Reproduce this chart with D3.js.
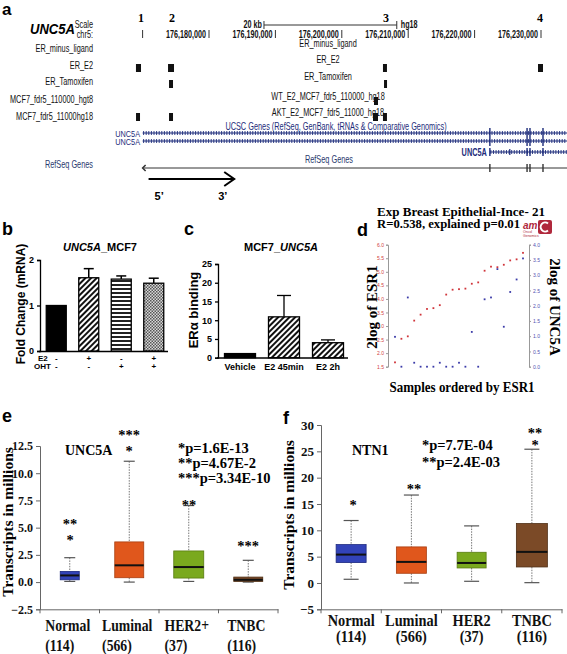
<!DOCTYPE html>
<html><head><meta charset="utf-8">
<script src="https://cdn.jsdelivr.net/npm/d3@7"></script>
<style>
body{margin:0;background:#fff}
svg{display:block}
text{font-family:"Liberation Sans",Arial,sans-serif}
.ser{font-family:"Liberation Serif","Times New Roman",serif;font-weight:bold}
</style>
</head><body>
<svg id="chart" width="567" height="654"></svg>
<script>
// ===================== DATA =====================
// Panel a : UCSC browser view (genomic coordinates, hg18 chr5)
const genomeTicks = [176180000,176190000,176200000,176210000,176220000,176230000];
const firstTick = 176170000;
const siteLabels = ["1","2","3","4"];
const sitePositions = [176169760,176174430,176206660,176229850];
const trackNames = ["ER_minus_ligand","ER_E2","ER_Tamoxifen","MCF7_fdr5_110000_hgt8","MCF7_fdr5_11000hg18"];
const trackTitles = ["ER_minus_ligand","ER_E2","ER_Tamoxifen","WT_E2_MCF7_fdr5_110000_hg18","AKT_E2_MCF7_fdr5_11000_hg18"];
const trackPeaks = [
  [],
  [[176169000,176169760],[176173830,176174730],[176206200,176206800],[176229550,176230300]],
  [[176173980,176174580],[176206360,176206810]],
  [[176204850,176205450]],
  [[176169010,176169610],[176173980,176174580],[176204700,176205450],[176206200,176206800]]
];
const geneStart = 176170000, shortGeneStart = 176222300;
const exonPositions = [176222300,176227900,176228340,176230300];
const shortExonExtra = [176225300];
const scaleBarStart = 176188280, scaleBarLength = 20000;
const arrowFrom = 176170900, arrowTo = 176183800;

// Panel b : UNC5A_MCF7 fold change
const bE2  = ["-","+","-","+"];
const bOHT = ["-","-","+","+"];
const bValues = [1.00,1.61,1.58,1.49];
const bErrors = [0,0.20,0.07,0.11];
const bTicks = [0,1,2];

// Panel c : ERα binding
const cCategories = ["Vehicle","E2 45min","E2 2h"];
const cValues = [1.1,10.9,4.0];
const cErrors = [0,5.7,0.75];
const cTicks = [0,5,10,15,20,25];

// Panel d : 21 samples ordered by ESR1
const dESR1  = [1.66,2.53,2.62,3.20,3.42,3.63,3.66,3.77,4.16,4.34,4.36,4.38,4.56,4.61,5.04,5.19,5.17,5.26,5.42,5.46,5.70];
const dUNC5A = [0.98,0.00,2.27,0.13,0.00,0.00,0.00,0.13,0.00,0.00,0.13,0.00,1.14,0.00,2.21,2.27,3.20,1.31,2.45,2.86,3.55];
const dLeftTicks = [1.5,2.0,2.5,3.0,3.5,4.0,4.5,5.0,5.5,6.0];
const dRightTicks = [0.0,0.5,1.0,1.5,2.0,2.5,3.0,3.5,4.0];

// Panel e : UNC5A transcripts
const eCategories = ["Normal","Luminal","HER2+","TNBC"];
const eCounts = ["(114)","(566)","(37)","(116)"];
const eMin = [0.06,0.00,0.06,0.00];
const eQ1  = [0.21,0.40,0.37,0.06];
const eMed = [0.61,1.54,1.38,0.21];
const eQ3  = [0.98,3.69,2.86,0.46];
const eMax = [2.24,11.10,7.03,2.00];
const eStars = [["**","*"],["***","*"],["**"],["***"]];
const eNotes = ["*p=1.6E-13","**p=4.67E-2","***p=3.34E-10"];
const eTicks = [-2.5,0,2.5,5,7.5,10,12.5];

// Panel f : NTN1 transcripts
const fCategories = ["Normal","Luminal","HER2","TNBC"];
const fCounts = ["(114)","(566)","(37)","(116)"];
const fMin = [0.70,0.00,0.32,0.06];
const fQ1  = [3.87,1.84,2.85,3.04];
const fMed = [5.39,4.00,3.80,5.90];
const fQ3  = [7.29,6.85,5.83,11.29];
const fMax = [11.86,16.70,10.84,25.40];
const fStars = [["*"],["**"],[],["**","*"]];
const fNotes = ["*p=7.7E-04","**p=2.4E-03"];
const fTicks = [-5,0,5,10,15,20,25,30];

// ===================== DRAW =====================
const svg = d3.select("#chart");
const NAVY = "#1c2b7a";
const FA = 10.5; // panel a label size

// condensed text helper (squeezes glyphs horizontally by factor k)
function ctext(g, x, y, str, o){
  const t = g.append("text").attr("x",x).attr("y",y).attr("font-size",o.size||FA)
    .attr("text-anchor",o.anchor||"start").attr("font-weight",o.weight||"normal").attr("fill",o.fill||"#111").text(str);
  if(o.cls) t.attr("class",o.cls);
  const w = t.node().getComputedTextLength();
  t.attr("textLength",w*(o.k||1)).attr("lengthAdjust","spacingAndGlyphs");
  return t;
}
function measure(str,size,weight,cls){
  const t = svg.append("text").attr("font-size",size).attr("font-weight",weight).text(str);
  if(cls) t.attr("class",cls);
  const w = t.node().getComputedTextLength(); t.remove(); return w;
}
const KA = 83/measure("MCF7_fdr5_110000_hgt8",FA,"normal");
const KAB = 40/measure("176,180,000",FA,"bold");

// ---------- Panel a ----------
const ga = svg.append("g");
const gx = d3.scaleLinear().domain([176180000,176230000]).range([209,541]);
ga.append("text").attr("x",2).attr("y",15).attr("font-size",17).attr("font-weight","bold").text("a");
ga.selectAll(".site").data(siteLabels).join("text").attr("class","ser")
  .attr("x",(d,i)=>gx(sitePositions[i])).attr("y",22).attr("text-anchor","middle").attr("font-size",12).text(d=>d);
ga.append("text").attr("x",30).attr("y",34).attr("font-size",14).attr("font-weight","bold").attr("font-style","italic").attr("textLength",45).attr("lengthAdjust","spacingAndGlyphs").text("UNC5A");
ctext(ga,93,28,"Scale",{anchor:"end",k:KA});
ctext(ga,93,38,"chr5:",{anchor:"end",k:KA});
const sb0 = gx(scaleBarStart), sb1 = gx(scaleBarStart+scaleBarLength);
ctext(ga,sb0-2,28,"20 kb",{anchor:"end",weight:"bold",k:KAB});
ga.append("line").attr("x1",sb0).attr("x2",sb1).attr("y1",25).attr("y2",25).attr("stroke","#333");
[sb0,sb1].forEach(x=>ga.append("line").attr("x1",x).attr("x2",x).attr("y1",21).attr("y2",29).attr("stroke","#333"));
ctext(ga,sb1+4,28,"hg18",{weight:"bold",k:KAB});
ga.append("line").attr("x1",gx(firstTick)).attr("x2",gx(firstTick)).attr("y1",30).attr("y2",38).attr("stroke","#333");
genomeTicks.forEach(t=>{
  ga.append("line").attr("x1",gx(t)).attr("x2",gx(t)).attr("y1",30).attr("y2",38).attr("stroke","#333");
  ctext(ga,gx(t)-3,38,d3.format(",")(t),{anchor:"end",weight:"bold",k:KAB});
});
const leftY = [52,69,85,103,120], titleY = [47,63,80,100,116], peakTop = [0,64,80,97,113];
trackNames.forEach((n,i)=>{
  ctext(ga,93,leftY[i],n,{anchor:"end",k:KA});
  ctext(ga,328,titleY[i],trackTitles[i],{anchor:"middle",k:KA});
  ga.selectAll(null).data(trackPeaks[i]).join("rect")
    .attr("x",d=>gx(d[0])).attr("width",d=>Math.max(3,gx(d[1])-gx(d[0])))
    .attr("y",peakTop[i]).attr("height",8).attr("fill","#111");
});
ctext(ga,336,130,"UCSC Genes (RefSeq, GenBank, tRNAs & Comparative Genomics)",{anchor:"middle",fill:NAVY,k:KA});
function geneLine(x0,x1,y){
  ga.append("line").attr("x1",x0).attr("x2",x1).attr("y1",y).attr("y2",y).attr("stroke",NAVY).attr("stroke-width",1.2);
  const ticks = d3.range(x0+1,x1,2.6);
  ga.selectAll(null).data(ticks).join("line").attr("x1",d=>d).attr("x2",d=>d).attr("y1",y-2).attr("y2",y+2).attr("stroke",NAVY).attr("stroke-width",0.9);
}
[133,141].forEach(y=>{
  geneLine(gx(geneStart),567,y);
  ctext(ga,140,y+3.5,"UNC5A",{anchor:"end",fill:NAVY,size:9.5,k:KA*1.1});
});
geneLine(gx(shortGeneStart),567,152);
ctext(ga,gx(shortGeneStart)-3,155.5,"UNC5A",{anchor:"end",fill:NAVY,weight:"bold",k:KA});
exonPositions.forEach(p=>{
  ga.append("line").attr("x1",gx(p)).attr("x2",gx(p)).attr("y1",128).attr("y2",146).attr("stroke",NAVY).attr("stroke-width",1.4);
  ga.append("line").attr("x1",gx(p)).attr("x2",gx(p)).attr("y1",148).attr("y2",156).attr("stroke",NAVY).attr("stroke-width",1.4);
  ga.append("line").attr("x1",gx(p)).attr("x2",gx(p)).attr("y1",164).attr("y2",172).attr("stroke","#333").attr("stroke-width",1.4);
});
shortExonExtra.forEach(p=>ga.append("line").attr("x1",gx(p)).attr("x2",gx(p)).attr("y1",149).attr("y2",155).attr("stroke",NAVY).attr("stroke-width",1.2));
ctext(ga,93,168,"RefSeq Genes",{anchor:"end",fill:"#2b3a6e",k:KA});
ctext(ga,329,163,"RefSeq Genes",{anchor:"middle",fill:"#2b3a6e",k:KA});
ga.append("line").attr("x1",gx(geneStart)).attr("x2",567).attr("y1",168).attr("y2",168).attr("stroke","#333").attr("stroke-width",1);
ga.append("path").attr("d",`M${gx(geneStart)+3},165 L${gx(geneStart)},168 L${gx(geneStart)+3},171`).attr("fill","none").attr("stroke","#333").attr("stroke-width",1.5);
const ax0 = gx(arrowFrom), ax1 = gx(arrowTo);
ga.append("line").attr("x1",ax0).attr("x2",ax1).attr("y1",179).attr("y2",179).attr("stroke","#000").attr("stroke-width",2);
ga.append("path").attr("d",`M${ax1-10},172 L${ax1},179 L${ax1-10},186`).attr("fill","none").attr("stroke","#000").attr("stroke-width",2);
ga.append("text").attr("x",ax0+6).attr("y",200).attr("font-size",11).attr("font-weight","bold").text("5’");
ga.append("text").attr("x",ax1-16).attr("y",200).attr("font-size",11).attr("font-weight","bold").text("3’");

// ---------- patterns ----------
const defs = svg.append("defs");
const pd = defs.append("pattern").attr("id","diag").attr("patternUnits","userSpaceOnUse").attr("width",4).attr("height",4).attr("patternTransform","rotate(-45)");
pd.append("rect").attr("width",4).attr("height",4).attr("fill","#fff");
pd.append("rect").attr("width",4).attr("height",2).attr("fill","#111");
const ph = defs.append("pattern").attr("id","horiz").attr("patternUnits","userSpaceOnUse").attr("width",4).attr("height",4);
ph.append("rect").attr("width",4).attr("height",4).attr("fill","#fff");
ph.append("rect").attr("width",4).attr("height",2).attr("fill","#222");
const pc = defs.append("pattern").attr("id","check").attr("patternUnits","userSpaceOnUse").attr("width",3).attr("height",3);
pc.append("rect").attr("width",3).attr("height",3).attr("fill","#d8d8d8");
pc.append("rect").attr("width",1.5).attr("height",1.5).attr("fill","#555");
pc.append("rect").attr("x",1.5).attr("y",1.5).attr("width",1.5).attr("height",1.5).attr("fill","#555");
const bFills = ["#000","url(#diag)","url(#horiz)","url(#check)"];
const cFills = ["#000","url(#diag)","url(#diag)"];

// ---------- Panel b ----------
const gb = svg.append("g");
gb.append("text").attr("x",2).attr("y",235).attr("font-size",18).attr("font-weight","bold").text("b");
const bt = gb.append("text").attr("x",100).attr("y",251).attr("text-anchor","middle").attr("font-size",11).attr("font-weight","bold");
bt.append("tspan").attr("font-style","italic").text("UNC5A");bt.append("tspan").text("_MCF7");
const yB = d3.scaleLinear().domain([0,2]).range([351,260]);
const xB = d3.scalePoint().domain(d3.range(4)).range([40,170]).padding(0.5);
const bw = 20;
gb.append("g").attr("transform","translate(40,0)").call(d3.axisLeft(yB).tickValues(bTicks).tickFormat(d3.format("d")).tickSize(3))
  .call(g=>{g.selectAll("text").attr("font-size",9).attr("font-weight","bold");g.select(".domain").attr("stroke-width",1.3);g.selectAll(".tick line").attr("stroke-width",1.3);});
gb.append("line").attr("x1",39).attr("x2",168).attr("y1",351.5).attr("y2",351.5).attr("stroke","#000").attr("stroke-width",1.3);
bValues.forEach((v,i)=>{
  const cx = xB(i);
  if(bErrors[i]>0){
    gb.append("line").attr("x1",cx).attr("x2",cx).attr("y1",yB(v)).attr("y2",yB(v+bErrors[i])).attr("stroke","#000").attr("stroke-width",1.5);
    gb.append("line").attr("x1",cx-5).attr("x2",cx+5).attr("y1",yB(v+bErrors[i])).attr("y2",yB(v+bErrors[i])).attr("stroke","#000").attr("stroke-width",1.5);
  }
  gb.append("rect").attr("x",cx-bw/2).attr("width",bw).attr("y",yB(v)).attr("height",yB(0)-yB(v)).attr("fill",bFills[i]).attr("stroke","#000").attr("stroke-width",1.3);
  gb.append("text").attr("x",cx).attr("y",361).attr("text-anchor","middle").attr("font-size",8).attr("font-weight","bold").text(bE2[i]);
  gb.append("text").attr("x",cx).attr("y",369).attr("text-anchor","middle").attr("font-size",8).attr("font-weight","bold").text(bOHT[i]);
});
gb.append("text").attr("x",38).attr("y",361).attr("font-size",8).attr("font-weight","bold").text("E2");
gb.append("text").attr("x",34).attr("y",369).attr("font-size",8).attr("font-weight","bold").text("OHT");
gb.append("text").attr("transform","translate(25,304) rotate(-90)").attr("text-anchor","middle").attr("font-size",12).attr("font-weight","bold").text("Fold Change (mRNA)");

// ---------- Panel c ----------
const gc = svg.append("g");
gc.append("text").attr("x",184).attr("y",235).attr("font-size",18).attr("font-weight","bold").text("c");
const ct = gc.append("text").attr("x",281).attr("y",251).attr("text-anchor","middle").attr("font-size",11).attr("font-weight","bold");
ct.append("tspan").text("MCF7_");ct.append("tspan").attr("font-style","italic").text("UNC5A");
const yC = d3.scaleLinear().domain([0,25]).range([357.7,264]);
const xC = d3.scalePoint().domain(cCategories).range([218,350]).padding(0.5);
const cw = 31;
gc.append("g").attr("transform","translate(218,0)").call(d3.axisLeft(yC).tickValues(cTicks).tickSize(3))
  .call(g=>{g.selectAll("text").attr("font-size",9).attr("font-weight","bold");g.select(".domain").attr("stroke-width",1.3);g.selectAll(".tick line").attr("stroke-width",1.3);});
gc.append("line").attr("x1",217).attr("x2",348).attr("y1",358).attr("y2",358).attr("stroke","#000").attr("stroke-width",1.3);
cValues.forEach((v,i)=>{
  const cx = xC(cCategories[i]);
  if(cErrors[i]>0){
    gc.append("line").attr("x1",cx).attr("x2",cx).attr("y1",yC(v)).attr("y2",yC(v+cErrors[i])).attr("stroke","#000").attr("stroke-width",1.3);
    gc.append("line").attr("x1",cx-7).attr("x2",cx+7).attr("y1",yC(v+cErrors[i])).attr("y2",yC(v+cErrors[i])).attr("stroke","#000").attr("stroke-width",1.3);
  }
  gc.append("rect").attr("x",cx-cw/2).attr("width",cw).attr("y",yC(v)).attr("height",yC(0)-yC(v)).attr("fill",cFills[i]).attr("stroke","#000").attr("stroke-width",1.3);
  gc.append("text").attr("x",cx).attr("y",370).attr("text-anchor","middle").attr("font-size",9).attr("font-weight","bold").text(cCategories[i]);
});
gc.append("text").attr("transform","translate(198,310) rotate(-90)").attr("text-anchor","middle").attr("font-size",13).attr("font-weight","bold").text("ERα binding");

// ---------- Panel d ----------
const gd = svg.append("g");
gd.append("text").attr("x",357).attr("y",236).attr("font-size",18).attr("font-weight","bold").text("d");
gd.append("text").attr("class","ser").attr("x",377).attr("y",216).attr("font-size",12.5).attr("textLength",168).attr("lengthAdjust","spacingAndGlyphs").text("Exp Breast Epithelial-Ince- 21");
gd.append("text").attr("class","ser").attr("x",377).attr("y",228).attr("font-size",12.5).attr("textLength",143).attr("lengthAdjust","spacingAndGlyphs").text("R=0.538, explained p=0.01");
gd.append("text").attr("x",523).attr("y",229).attr("font-size",10).attr("font-style","italic").attr("font-family","Liberation Serif").attr("font-weight","bold").attr("fill","#b0283c").text("am");
gd.append("rect").attr("x",538).attr("y",220).attr("width",14).attr("height",14).attr("rx",2).attr("fill","#b0283c");
gd.append("path").attr("d","M548,223.5 A4.5,4.5 0 1 0 548,230.5").attr("fill","none").attr("stroke","#fff").attr("stroke-width",2);
gd.append("text").attr("x",523).attr("y",233).attr("font-size",3.5).attr("fill","#b0283c").text("Oncol");
gd.append("text").attr("x",523).attr("y",236.5).attr("font-size",3.5).attr("fill","#b0283c").text("Genomics");
const xD = d3.scalePoint().domain(d3.range(dESR1.length)).range([395,523]);
const yDL = d3.scaleLinear().domain([1.5,6.0]).range([366.7,244.7]);
const yDR = d3.scaleLinear().domain([0,4]).range([366.7,244.7]);
gd.append("g").attr("transform","translate(388,0)").call(d3.axisLeft(yDL).tickValues(dLeftTicks).tickFormat(d3.format(".1f")).tickSize(2).tickPadding(2))
  .call(g=>{g.selectAll("text").attr("font-size",5).attr("fill","#d04040");g.selectAll("line,path").attr("stroke","#999");});
gd.append("g").attr("transform","translate(529,0)").call(d3.axisRight(yDR).tickValues(dRightTicks).tickFormat(d3.format(".1f")).tickSize(2).tickPadding(2))
  .call(g=>{g.selectAll("text").attr("font-size",5).attr("fill","#5050b0");g.selectAll("line,path").attr("stroke","#999");});
gd.selectAll(".pr").data(dESR1).join("rect").attr("x",(d,i)=>xD(i)-0.9).attr("y",d=>yDL(d)-0.9).attr("width",1.8).attr("height",1.8).attr("fill","#d0343a");
gd.selectAll(".pb").data(dUNC5A).join("rect").attr("x",(d,i)=>xD(i)-0.9).attr("y",d=>yDR(d)-0.9).attr("width",1.8).attr("height",1.8).attr("fill","#3b3ba8");
gd.append("text").attr("class","ser").attr("transform","translate(377,307) rotate(-90)").attr("text-anchor","middle").attr("font-size",15).text("2log of ESR1");
gd.append("text").attr("class","ser").attr("transform","translate(550,307) rotate(90)").attr("text-anchor","middle").attr("font-size",15).text("2log of UNC5A");
gd.append("text").attr("class","ser").attr("x",462).attr("y",392).attr("text-anchor","middle").attr("font-size",14).attr("textLength",145).attr("lengthAdjust","spacingAndGlyphs").text("Samples ordered by ESR1");

// ---------- box plot helper ----------
const boxColors = ["#3243b8","#e0571c","#7aa91e","#7b4a27"];
const boxStroke = ["#1d2a80","#a83d10","#587c10","#4e2e15"];
function boxPanel(g, cfg){
  const y = d3.scaleLinear().domain(cfg.domain).range(cfg.yRange);
  const x = d3.scaleBand().domain(cfg.cats).range(cfg.xRange);
  g.append("g").attr("transform",`translate(${cfg.xRange[0]},0)`).call(d3.axisLeft(y).tickValues(cfg.ticks).tickFormat(cfg.fmt).tickSize(4))
    .call(a=>{a.selectAll("text").attr("class","ser").attr("font-size",cfg.tickFont).attr("fill","#111");a.selectAll("line,path").attr("stroke","#666");});
  g.append("g").attr("transform",`translate(0,${cfg.yRange[0]})`).call(d3.axisBottom(x).tickSize(0).tickFormat(""))
    .call(a=>{a.selectAll("path").attr("stroke","#666");});
  cfg.cats.concat(["end"]).forEach((c,i)=>{
    const xx = cfg.xRange[0] + i*x.step();
    g.append("line").attr("x1",xx).attr("x2",xx).attr("y1",cfg.yRange[0]).attr("y2",cfg.yRange[0]+4).attr("stroke","#666");
  });
  const kL = cfg.refLabelWidth/measure(cfg.cats[0],cfg.labelFont,"bold","ser");
  cfg.cats.forEach((c,i)=>{
    const cx = x(c)+x.bandwidth()/2, w = cfg.widths[i];
    g.append("line").attr("x1",cx).attr("x2",cx).attr("y1",y(cfg.max[i])).attr("y2",y(cfg.q3[i])).attr("stroke","#777").attr("stroke-dasharray","1.5,1.2");
    g.append("line").attr("x1",cx).attr("x2",cx).attr("y1",y(cfg.q1[i])).attr("y2",y(cfg.min[i])).attr("stroke","#777").attr("stroke-dasharray","1.5,1.2");
    [cfg.max[i],cfg.min[i]].forEach(v=>g.append("line").attr("x1",cx-cfg.cap/2).attr("x2",cx+cfg.cap/2).attr("y1",y(v)).attr("y2",y(v)).attr("stroke","#555").attr("stroke-width",1.2));
    g.append("rect").attr("x",cx-w/2).attr("width",w).attr("y",y(cfg.q3[i])).attr("height",Math.max(1,y(cfg.q1[i])-y(cfg.q3[i])))
      .attr("fill",boxColors[i]).attr("stroke",boxStroke[i]).attr("stroke-width",0.8);
    g.append("line").attr("x1",cx-w/2).attr("x2",cx+w/2).attr("y1",y(cfg.med[i])).attr("y2",y(cfg.med[i])).attr("stroke","#111").attr("stroke-width",2);
    const t1 = ctext(g,cx+cfg.labelShift,cfg.labelY[0],c,{anchor:"middle",size:cfg.labelFont,weight:"bold",fill:"#111",cls:"ser",k:kL});
    if(cfg.leftAlignCounts){
      const w1 = +t1.attr("textLength");
      ctext(g,cx+cfg.labelShift-w1/2,cfg.labelY[1],cfg.counts[i],{size:cfg.labelFont,weight:"bold",fill:"#111",cls:"ser",k:kL});
    } else {
      ctext(g,cx,cfg.labelY[1],cfg.counts[i],{anchor:"middle",size:cfg.labelFont,weight:"bold",fill:"#111",cls:"ser",k:kL});
    }
    cfg.stars[i].forEach((s,k)=>g.append("text").attr("class","ser").attr("x",cfg.starX[i]).attr("y",cfg.starY[i][k]).attr("text-anchor","middle").attr("font-size",14.5).text(s));
  });
  g.append("text").attr("class","ser").attr("transform",`translate(${cfg.yLabelX},${cfg.yLabelY}) rotate(-90)`).attr("text-anchor","middle").attr("font-size",15.5).text("Transcripts in millions");
  g.append("text").attr("class","ser").attr("x",cfg.geneX).attr("y",455).attr("font-size",14).text(cfg.gene);
  cfg.notes.forEach((n,k)=>g.append("text").attr("class","ser").attr("x",cfg.noteX).attr("y",cfg.noteY[k]).attr("font-size",14.5).text(n));
}

// ---------- Panel e ----------
const ge = svg.append("g");
ge.append("text").attr("x",2).attr("y",422).attr("font-size",18).attr("font-weight","bold").text("e");
boxPanel(ge,{domain:[-2.5,12.5],yRange:[609.3,446],xRange:[40,278],cats:eCategories,counts:eCounts,
  ticks:eTicks,fmt:d3.format(".1f"),tickFont:12,min:eMin,q1:eQ1,med:eMed,q3:eQ3,max:eMax,
  widths:[19,29,30,29],cap:11,labelShift:-2,labelY:[631,651],labelFont:17,refLabelWidth:45,leftAlignCounts:true,
  stars:eStars,starX:[70,129,189,248],starY:[[529,545],[440,456],[510],[551]],
  yLabelX:13,yLabelY:522,gene:"UNC5A",geneX:65,notes:eNotes,noteX:178,noteY:[453,468,483]});

// ---------- Panel f ----------
const gf = svg.append("g");
gf.append("text").attr("x",283).attr("y",424).attr("font-size",18).attr("font-weight","bold").text("f");
boxPanel(gf,{domain:[-5,30],yRange:[609.3,425],xRange:[321,562],cats:fCategories,counts:fCounts,
  ticks:fTicks,fmt:d3.format("d"),tickFont:13,min:fMin,q1:fQ1,med:fMed,q3:fQ3,max:fMax,
  widths:[30,30,29,31],cap:15,labelShift:0,labelY:[626,642],labelFont:16,refLabelWidth:47,leftAlignCounts:false,
  stars:fStars,starX:[353,414,474,535],starY:[[510],[494],[],[438,450]],
  yLabelX:294,yLabelY:515,gene:"NTN1",geneX:352,notes:fNotes,noteX:422,noteY:[450,467]});
</script>
</body></html>
